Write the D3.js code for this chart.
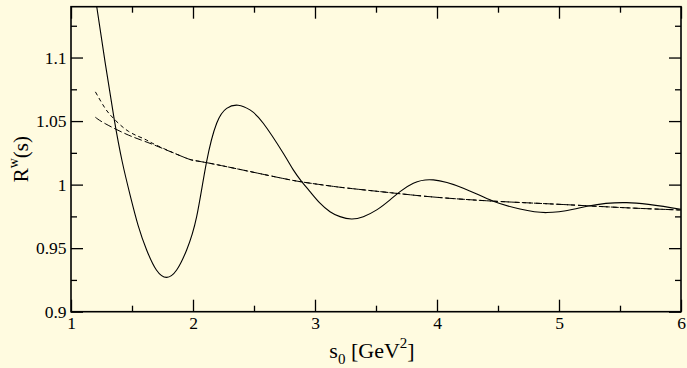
<!DOCTYPE html>
<html><head><meta charset="utf-8">
<script src="https://cdn.jsdelivr.net/npm/d3@7"></script>
<style>html,body{margin:0;padding:0;background:#fffbe0;}svg{display:block;}svg text{font-family:'Liberation Serif','DejaVu Serif',serif;}</style>
</head><body>
<script>
// ---- data ----
const xTicks = [1, 2, 3, 4, 5, 6];
const xMinorTicks = [1.5, 2.5, 3.5, 4.5, 5.5];
const yTicks = [0.9, 0.95, 1, 1.05, 1.1];
const yTickLabels = ["0.9", "0.95", "1", "1.05", "1.1"];
const yMinorTicks = [0.925, 0.975, 1.025, 1.075, 1.125];

const solidS = [1.20, 1.28, 1.355, 1.42, 1.484, 1.55, 1.62, 1.70, 1.784, 1.866, 1.948, 2.03, 2.11, 2.194, 2.276, 2.37, 2.467, 2.576, 2.74, 2.822, 2.891, 2.959, 3.041, 3.123, 3.205, 3.30, 3.396, 3.506, 3.615, 3.697, 3.806, 3.97, 4.216, 4.462, 4.68, 4.899, 5.117, 5.24, 5.555, 6.0];
const solidV = [1.147, 1.096, 1.051, 1.018, 0.992, 0.968, 0.9486, 0.9328, 0.927, 0.9328, 0.9486, 0.9748, 1.0173, 1.0483, 1.060, 1.0625, 1.0588, 1.0483, 1.0247, 1.0116, 1.0024, 0.9945, 0.9854, 0.9787, 0.9748, 0.9730, 0.9748, 0.9801, 0.988, 0.9945, 1.0011, 1.0037, 0.9972, 0.9869, 0.9808, 0.978, 0.9806, 0.9832, 0.9858, 0.9806];

const longS = [1.2, 1.28, 1.47, 1.66, 1.94, 2.11, 2.63, 2.9, 3.12, 3.29, 3.68, 4.0, 4.46, 5.0, 5.5, 6.0];
const longV = [1.053, 1.048, 1.039, 1.032, 1.021, 1.0173, 1.007, 1.002, 0.999, 0.997, 0.993, 0.990, 0.987, 0.9845, 0.982, 0.980];

const shortS = [1.2, 1.28, 1.35, 1.47, 1.6, 1.7, 1.94, 2.11, 2.63, 2.9, 3.12, 3.29, 3.68, 4.0, 4.46, 5.0, 5.5, 6.0];
const shortV = [1.073, 1.060, 1.052, 1.042, 1.036, 1.031, 1.021, 1.0173, 1.007, 1.002, 0.999, 0.997, 0.993, 0.990, 0.987, 0.9845, 0.982, 0.980];

// ---- layout ----
const W = 687, H = 368;
const L = 71, R = 681, T = 6.7, B = 311.7;
const FONT = "'Liberation Serif','DejaVu Serif',serif";
const svg = d3.select("body").append("svg").attr("width", W).attr("height", H)
  .style("font-family", FONT);
svg.append("rect").attr("width", W).attr("height", H).attr("fill", "#fffbe0");

const x = d3.scaleLinear().domain([1, 6]).range([L, R]);
const y = d3.scaleLinear().domain([0.9, 1.14]).range([B, T]);

svg.append("defs").append("clipPath").attr("id", "clip")
  .append("rect").attr("x", L).attr("y", T).attr("width", R - L).attr("height", B - T);

const line = d3.line().x(d => x(d[0])).y(d => y(d[1])).curve(d3.curveNatural);
const g = svg.append("g").attr("clip-path", "url(#clip)");
g.append("path").datum(shortS.map((s, i) => [s, shortV[i]])).attr("d", line)
  .attr("fill", "none").attr("stroke", "#000").attr("stroke-width", 1).attr("stroke-dasharray", "4,3");
g.append("path").datum(longS.map((s, i) => [s, longV[i]])).attr("d", line)
  .attr("fill", "none").attr("stroke", "#000").attr("stroke-width", 1).attr("stroke-dasharray", "8,3");
g.append("path").datum(solidS.map((s, i) => [s, solidV[i]])).attr("d", line)
  .attr("fill", "none").attr("stroke", "#000").attr("stroke-width", 1.1);

// ---- axes (ticks inward on all sides) ----
const maj = 12, mnr = 6;
function ax(axisFn, scale, vals, size, transform, labels) {
  const a = axisFn(scale).tickValues(vals).tickSize(size).tickSizeOuter(0)
    .tickFormat(labels ? ((d, i) => labels[i]) : "");
  const sel = svg.append("g").attr("transform", transform).call(a);
  sel.attr("font-family", FONT);
  sel.select(".domain").remove();
  sel.selectAll("line").attr("stroke", "#000").attr("stroke-width", 1.3);
  return sel;
}
// bottom
const xb = ax(d3.axisTop, x, xTicks, maj, `translate(0,${B})`, xTicks.map(String));
xb.selectAll("text").attr("y", 17).attr("dy", 0).style("font-size", "17.5px").attr("fill", "#000");
ax(d3.axisTop, x, xMinorTicks, mnr, `translate(0,${B})`);
// top
ax(d3.axisBottom, x, xTicks, maj, `translate(0,${T})`);
ax(d3.axisBottom, x, xMinorTicks, mnr, `translate(0,${T})`);
// left
const yl = ax(d3.axisRight, y, yTicks, maj, `translate(${L},0)`, yTickLabels);
yl.selectAll("text").attr("x", -4.5).attr("text-anchor", "end").attr("dy", "0.32em")
  .style("font-size", "17.5px").attr("fill", "#000");
ax(d3.axisRight, y, yMinorTicks, mnr, `translate(${L},0)`);
// right
ax(d3.axisLeft, y, yTicks, maj, `translate(${R},0)`);
ax(d3.axisLeft, y, yMinorTicks, mnr, `translate(${R},0)`);

svg.append("rect").attr("x", L).attr("y", T).attr("width", R - L).attr("height", B - T)
  .attr("fill", "none").attr("stroke", "#000").attr("stroke-width", 1.6);

// ---- axis titles ----
const xt = svg.append("text").attr("x", 372).attr("y", 358).attr("text-anchor", "middle")
  .style("font-size", "22px").attr("fill", "#000");
xt.append("tspan").text("s");
xt.append("tspan").attr("dy", 6).style("font-size", "15px").text("0");
xt.append("tspan").attr("dy", -6).text(" [GeV");
xt.append("tspan").attr("dy", -10).style("font-size", "15px").text("2");
xt.append("tspan").attr("dy", 10).text("]");

const yt = svg.append("text").attr("transform", `translate(27.5,${(T + B) / 2}) rotate(-90)`)
  .attr("text-anchor", "middle").style("font-size", "21px").attr("fill", "#000");
yt.append("tspan").text("R");
yt.append("tspan").attr("dy", -10).style("font-size", "14px").text("w");
yt.append("tspan").attr("dy", 10).text("(s)");
</script>
</body></html>
